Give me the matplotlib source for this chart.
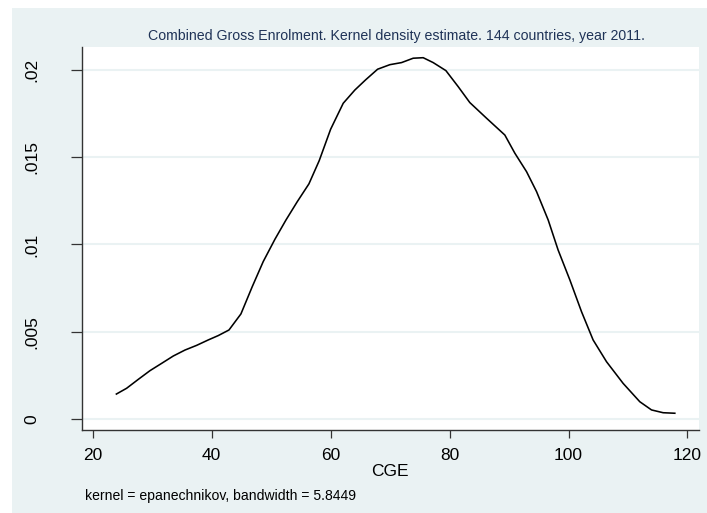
import matplotlib.pyplot as plt
from matplotlib.patches import Rectangle

# kernel density of CGE
cge = [23.98, 25.7, 27.66, 29.63, 31.6, 33.55, 35.51, 37.48, 39.43, 41.11,
       42.91, 44.92, 46.82, 48.67, 50.64, 52.49, 54.39, 56.35, 58.08, 60.0,
       62.12, 64.08, 65.88, 67.9, 69.96, 71.93, 73.88, 75.56, 77.24, 79.38,
       81.45, 83.4, 86.22, 89.29, 90.97, 92.94, 94.62, 96.58, 98.25, 100.22,
       102.18, 104.13, 106.39, 109.18, 111.98, 113.95, 115.9, 117.87]
density = [0.00143, 0.00176, 0.00227, 0.00277, 0.00319, 0.00361, 0.00395, 0.00422,
           0.00453, 0.00478, 0.0051, 0.00602, 0.00758, 0.00902, 0.0103, 0.0114,
           0.01245, 0.01347, 0.0148, 0.0166, 0.01809, 0.01885, 0.01943, 0.02004,
           0.0203, 0.02042, 0.02067, 0.0207, 0.02042, 0.01996, 0.01904, 0.01813,
           0.01723, 0.01627, 0.01523, 0.01417, 0.01303, 0.0114, 0.00968, 0.00797,
           0.00615, 0.00453, 0.00328, 0.00204, 0.00099, 0.00052, 0.00036, 0.00033]

xticks = [20, 40, 60, 80, 100, 120]
yticks = [0, 0.005, 0.01, 0.015, 0.02]
ylabels = ["0", ".005", ".01", ".015", ".02"]

title = "Combined Gross Enrolment. Kernel density estimate. 144 countries, year 2011."
note = "kernel = epanechnikov, bandwidth = 5.8449"

plt.rcParams['font.family'] = ['Liberation Sans', 'DejaVu Sans']

bg = '#eaf2f3'
fig = plt.figure(figsize=(7.07, 5.13), dpi=100, facecolor='white')
fig.patches.append(Rectangle((12 / 707, 0), 1, 1 - 8 / 513, transform=fig.transFigure,
                             facecolor=bg, edgecolor='none', zorder=-10))

ax = fig.add_axes([82 / 707, 83 / 513, (698.5 - 82) / 707, (430 - 46.7) / 513])
ax.set_facecolor('white')
ax.plot(cge, density, color='black', lw=1.15, zorder=3)

ax.set_xlim(18.2, 121.85)
ax.set_ylim(-0.00063, 0.02133)
ax.set_xticks(xticks)
ax.set_xticklabels([str(t) for t in xticks])
ax.set_yticks(yticks)
ax.set_yticklabels(ylabels, rotation=90, va='center')
ax.grid(axis='y', color=bg, lw=1.5, zorder=1)
ax.set_axisbelow(True)

for s in ['top', 'right']:
    ax.spines[s].set_visible(False)
for s in ['left', 'bottom']:
    ax.spines[s].set_color('#333333')
    ax.spines[s].set_linewidth(1.0)

ax.tick_params(axis='x', length=6, width=0.9, color='#333333', labelsize=12.5, pad=7)
ax.tick_params(axis='y', length=8, width=0.9, color='#333333', labelsize=12.5, pad=23)

ax.set_xlabel("CGE", fontsize=12.5, labelpad=1)
fig.text(397 / 707, 1 - 36 / 513, title, ha='center', va='center', fontsize=10.2, color='#1f3357')
fig.text(85 / 707, 1 - 496 / 513, note, ha='left', va='center', fontsize=10.1, color='black')

fig.savefig('out.png', dpi=100, facecolor=fig.get_facecolor())
